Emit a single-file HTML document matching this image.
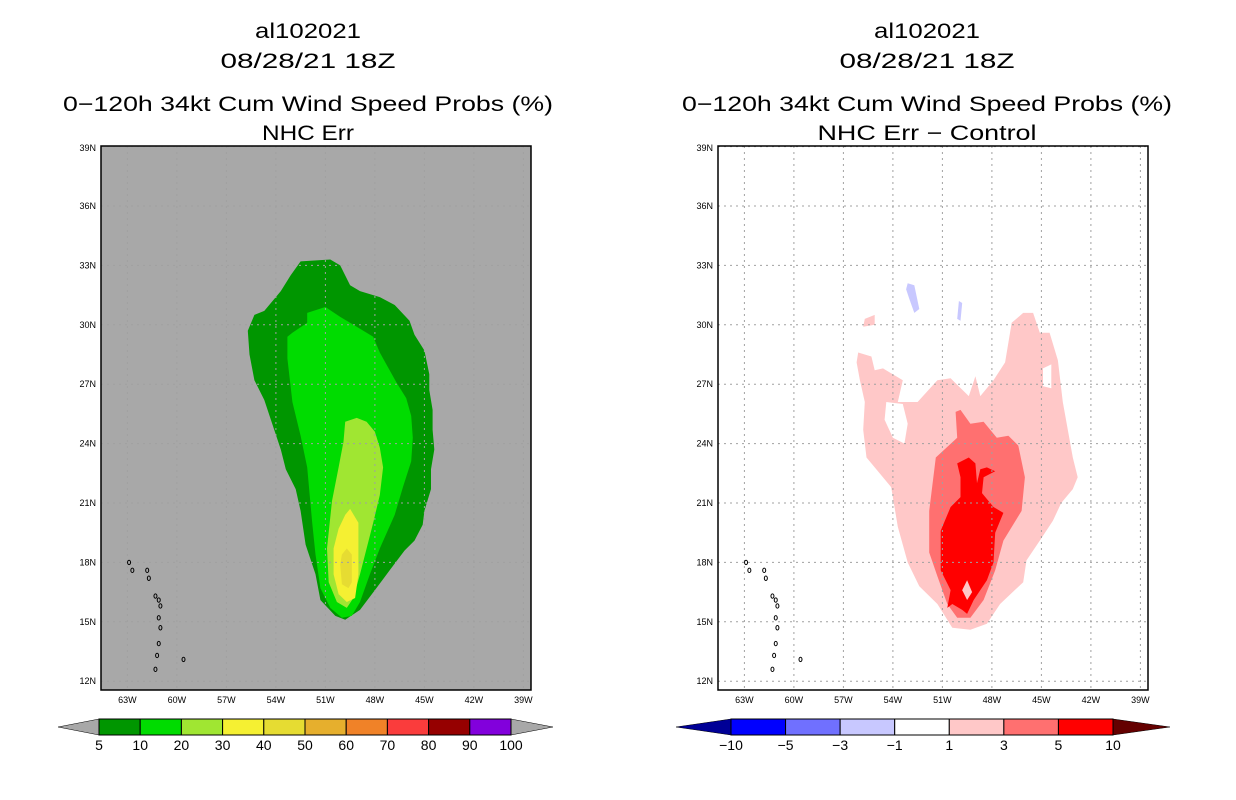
<!DOCTYPE html>
<html><head><meta charset="utf-8"><style>
html,body{margin:0;padding:0;background:#fff;}
svg{display:block;font-family:"Liberation Sans",sans-serif;}
</style></head><body>
<svg id="fig" width="1236" height="800" xmlns="http://www.w3.org/2000/svg"></svg>
<script>
// ---- data ----
const latTicks=[39,36,33,30,27,24,21,18,15,12];
const lonTicks=[63,60,57,54,51,48,45,42,39];
const probLevels=[5,10,20,30,40,50,60,70,80,90,100];
const probColors=["#009600","#00dc00","#a0e632","#f5f032","#e6dc32","#e6af2d","#f08228","#fa3c3c","#960000","#8200dc"];
const diffLevels=[-10,-5,-3,-1,1,3,5,10];
const diffColors=["#0000ff","#7070ff","#c8c8ff","#ffffff","#ffc8c8","#ff7070","#ff0000"];
const prob5=[[-52.5,33.2],[-50.7,33.3],[-50.1,33.0],[-49.5,32.0],[-48.9,31.7],[-47.7,31.4],[-46.8,31.0],[-45.9,30.2],[-45.6,29.5],[-45.0,28.7],[-44.7,27.5],[-44.7,26.7],[-44.5,25.7],[-44.5,24.7],[-44.4,23.7],[-44.6,22.7],[-44.6,21.7],[-45.0,20.6],[-45.1,19.9],[-45.6,19.1],[-46.2,18.6],[-47.1,17.6],[-48.0,16.6],[-48.9,15.6],[-49.8,15.1],[-50.4,15.3],[-51.3,16.1],[-51.6,17.4],[-52.2,18.9],[-52.5,20.6],[-52.8,21.7],[-53.4,22.7],[-53.7,23.7],[-54.1,24.7],[-54.7,26.2],[-55.3,27.2],[-55.6,28.5],[-55.7,29.7],[-55.3,30.5],[-54.7,30.7],[-53.7,31.7],[-53.1,32.5]];
const prob10=[[-52.1,30.6],[-51.0,30.9],[-50.1,30.4],[-49.1,29.9],[-48.1,29.4],[-47.7,28.6],[-47.5,28.3],[-46.7,27.1],[-46.1,26.3],[-45.8,25.4],[-45.7,24.3],[-45.8,23.1],[-46.3,21.8],[-46.8,20.4],[-47.7,18.7],[-48.3,17.4],[-48.9,16.0],[-49.4,15.3],[-50.0,15.2],[-50.7,15.7],[-51.3,16.7],[-51.6,18.4],[-51.8,20.0],[-52.1,22.8],[-52.5,24.4],[-53.0,26.1],[-53.3,28.3],[-53.3,29.4],[-53.0,29.6],[-52.1,30.1]];
const prob20=[[-49.8,25.1],[-49.1,25.3],[-48.5,25.1],[-48.0,24.6],[-47.7,23.8],[-47.5,22.8],[-47.7,21.4],[-48.1,20.0],[-48.5,18.7],[-48.9,17.4],[-49.3,16.2],[-49.7,15.7],[-50.3,16.0],[-50.8,17.0],[-50.9,18.7],[-50.6,21.1],[-50.2,22.8],[-49.9,24.1]];
const prob30=[[-49.5,20.7],[-49.0,20.0],[-49.0,18.7],[-49.0,17.4],[-49.2,16.2],[-49.7,16.0],[-50.2,16.4],[-50.5,17.4],[-50.5,18.7],[-50.2,19.7],[-49.8,20.4]];
const prob40=[[-49.7,18.7],[-49.4,18.4],[-49.4,17.0],[-49.6,16.7],[-50.0,16.9],[-50.1,17.9],[-50.0,18.4]];
const diff1=[[-56.1,28.6],[-55.3,28.4],[-55.1,27.7],[-54.6,27.8],[-53.4,27.2],[-53.7,26.1],[-52.5,26.1],[-51.3,27.2],[-50.5,27.3],[-49.4,26.4],[-49.0,27.4],[-48.7,26.4],[-47.9,27.2],[-47.2,28.1],[-46.8,30.1],[-46.1,30.6],[-45.5,30.6],[-45.1,29.6],[-44.5,29.6],[-44.0,28.2],[-43.7,26.1],[-43.1,23.3],[-42.8,22.3],[-43.1,21.7],[-43.8,21.0],[-44.3,20.1],[-45.1,19.1],[-45.9,18.1],[-46.1,17.0],[-47.5,15.9],[-48.3,14.9],[-49.3,14.6],[-50.4,14.7],[-51.3,15.9],[-52.4,16.8],[-53.1,18.0],[-53.7,19.8],[-54.1,21.8],[-55.6,23.3],[-55.8,24.7],[-55.7,26.1],[-56.0,27.2],[-56.2,28.1]];
const diff3=[[-50.2,25.6],[-49.9,25.7],[-49.3,25.0],[-48.5,25.1],[-47.7,24.3],[-47.0,24.4],[-46.4,23.9],[-46.0,22.3],[-46.2,20.6],[-47.3,19.1],[-47.8,17.6],[-48.5,16.1],[-49.3,15.2],[-50.1,15.2],[-50.7,15.9],[-51.3,17.3],[-51.8,18.5],[-51.8,20.6],[-51.4,23.3],[-50.1,24.3]];
const diff5=[[-50.1,23.0],[-49.4,23.3],[-49.0,23.0],[-48.9,22.0],[-48.7,22.7],[-48.3,22.8],[-47.8,22.6],[-48.5,22.3],[-48.6,21.5],[-47.9,20.8],[-47.3,20.5],[-47.8,19.5],[-47.9,18.0],[-48.3,17.1],[-49.1,16.1],[-49.5,15.4],[-49.8,15.6],[-50.4,15.9],[-50.7,15.7],[-50.5,16.6],[-51.1,17.6],[-51.1,19.6],[-50.5,20.8],[-49.9,21.3],[-49.9,22.3]];
const diffHoleW1=[[-54.4,26.1],[-53.4,26.0],[-53.1,25.0],[-53.3,24.0],[-54.0,24.3],[-54.5,25.2]];
const diffHoleW2=[[-44.9,27.8],[-44.4,28.0],[-44.4,26.8],[-44.9,26.9]];
const diffHoleP=[[-49.5,17.1],[-49.2,16.5],[-49.5,16.1],[-49.8,16.6]];
const diffBlue1=[[-53.1,32.1],[-52.7,32.0],[-52.4,30.8],[-52.7,30.6],[-53.0,31.3],[-53.2,31.8]];
const diffBlue2=[[-50.0,31.2],[-49.8,31.1],[-49.9,30.2],[-50.1,30.3]];
const diffPink2=[[-55.7,30.3],[-55.1,30.5],[-55.1,30.0],[-55.8,29.9]];
const islands=[[62.9,18.0],[62.7,17.6],[61.8,17.6],[61.7,17.2],[61.3,16.3],[61.1,16.1],[61.0,15.8],[61.1,15.2],[61.0,14.7],[61.1,13.9],[61.2,13.3],[61.3,12.6],[59.6,13.1]];

// ---- layout ----
const NS="http://www.w3.org/2000/svg";
const svg=document.getElementById('fig');
function el(tag,attrs,parent){const e=document.createElementNS(NS,tag);for(const k in attrs)e.setAttribute(k,attrs[k]);(parent||svg).appendChild(e);return e;}
const panels=[{x0:101,cx:308,sub:"NHC Err",subW:92,name:"left"},{x0:718,cx:927,sub:"NHC Err \u2212 Control",subW:219,name:"right"}];
const PW=430,PT=146,PB=690;
function xs(p,lonW){return p.x0+(64.6-lonW)*16.5;}
function ys(lat){return 503+(21-lat)*19.8;}
function poly(p,pts,fill,parent){return el('polygon',{points:pts.map(q=>xs(p,-q[0]).toFixed(1)+','+ys(q[1]).toFixed(1)).join(' '),fill:fill},parent);}

panels.forEach((p,i)=>{
  const g=el('g',{});
  
  
  const titles=["al102021","08/28/21 18Z","0\u2212120h 34kt Cum Wind Speed Probs (%)",p.sub];
  const ty=[38,68,111,140];
  const tw=[106,175,490,p.subW];
  titles.forEach((t,j)=>{const e=el('text',{x:p.cx,y:ty[j],'text-anchor':'middle','font-size':21,fill:'#000',textLength:tw[j],lengthAdjust:'spacingAndGlyphs'},g);e.textContent=t;
    
    });
  const bg=el('rect',{x:p.x0,y:PT,width:PW,height:PB-PT,fill:i==0?'#a8a8a8':'#ffffff'},g);
  
  
  const cg=el('g',{},g);
  
  
  if(i==0){
    [prob5,prob10,prob20,prob30,prob40].forEach((pp,k)=>{const e=poly(p,pp,probColors[k],cg);
      
      });
  } else {
    const defs=[[diff1,diffColors[4],'diff-1'],[diffPink2,diffColors[4],'diff-1-islet'],[diffHoleW1,'#ffffff','diff-hole-1'],[diffHoleW2,'#ffffff','diff-hole-2'],[diff3,diffColors[5],'diff-3'],[diff5,diffColors[6],'diff-5'],[diffHoleP,diffColors[4],'diff-hole-3'],[diffBlue1,diffColors[2],'diff-neg-1'],[diffBlue2,diffColors[2],'diff-neg-2']];
    defs.forEach(d=>{const e=poly(p,d[0],d[1],cg);
      
      });
  }
  lonTicks.forEach(l=>{const x=xs(p,l);const e=el('line',{x1:x,x2:x,y1:PT,y2:PB,stroke:'#a0a0a0','stroke-width':1,'stroke-dasharray':'2,4'},g);
    
    
    const t=el('text',{x:x,y:703,'text-anchor':'middle','font-size':9,fill:'#000'},g);t.textContent=l+'W';
    
    });
  latTicks.forEach(l=>{const y=ys(l);const e=el('line',{x1:p.x0,x2:p.x0+PW,y1:y,y2:y,stroke:'#a0a0a0','stroke-width':1,'stroke-dasharray':'2,4'},g);
    
    
    const t=el('text',{x:p.x0-5,y:Math.max(y,148)+3,'text-anchor':'end','font-size':9,fill:'#000'},g);t.textContent=l+'N';
    
    });
  islands.forEach(q=>{const e=el('ellipse',{cx:xs(p,q[0]),cy:ys(q[1]),rx:1.5,ry:2.2,fill:'none',stroke:'#000','stroke-width':1},g);
    
    });
  const fr=el('rect',{x:p.x0,y:PT,width:PW,height:PB-PT,fill:'none',stroke:'#000','stroke-width':1.5},g);
  
  
});

function colorbar(x0,x1,tipL,tipR,colors,labels,triL,triR,name){
  const g=el('g',{});
  
  
  const y0=719,y1=735,ym=727;
  const w=(x1-x0)/colors.length;
  const l=el('polygon',{points:`${x0},${y0} ${x0},${y1} ${tipL},${ym}`,fill:triL,stroke:'#000','stroke-width':0.5},g);
  
  
  const r=el('polygon',{points:`${x1},${y0} ${x1},${y1} ${tipR},${ym}`,fill:triR,stroke:'#000','stroke-width':0.5},g);
  
  
  colors.forEach((c,k)=>{const e=el('rect',{x:x0+k*w,y:y0,width:w,height:y1-y0,fill:c,stroke:'#000','stroke-width':1},g);
    
    });
  labels.forEach((v,k)=>{const t=el('text',{x:x0+k*w,y:750,'text-anchor':'middle','font-size':14,fill:'#000'},g);t.textContent=String(v).replace('-','\u2212');
    
    });
}
colorbar(99,511,58,553,probColors,probLevels,'#a8a8a8','#a8a8a8','prob-colorbar');
colorbar(731,1113,676,1170,diffColors,diffLevels,'#000096','#640000','diff-colorbar');
</script>
</body></html>
